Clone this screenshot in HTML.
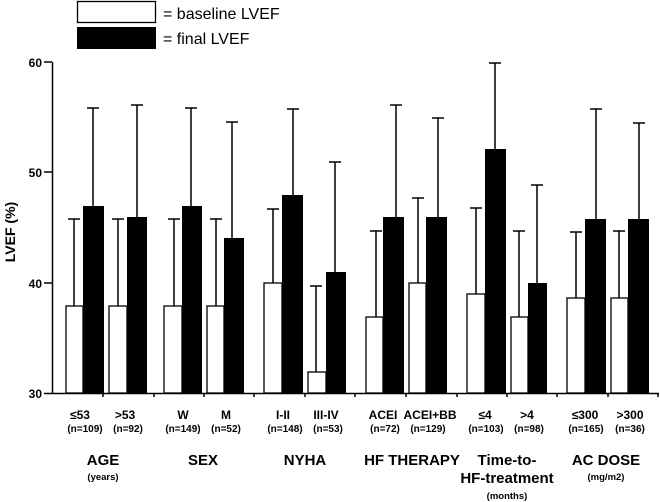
<!DOCTYPE html>
<html><head><meta charset="utf-8"><style>body{margin:0;background:#fff}svg{display:block}text{font-family:"Liberation Sans",Arial,sans-serif;fill:#000}</style></head>
<body>
<svg width="660" height="502" viewBox="0 0 660 502" xmlns="http://www.w3.org/2000/svg">
<rect x="77.5" y="1.5" width="78" height="21" fill="#fff" stroke="#000" stroke-width="1.3"/>
<rect x="77" y="27" width="79" height="22" fill="#000"/>
<text x="163" y="19" font-size="16">= baseline LVEF</text>
<text x="163" y="44" font-size="16">= final LVEF</text>
<g stroke="#000" stroke-width="1.5" fill="none">
<line x1="52.5" y1="62" x2="52.5" y2="394"/>
<line x1="52" y1="393.5" x2="659" y2="393.5"/>
<line x1="44" y1="62" x2="52" y2="62"/>
<line x1="44" y1="172" x2="52" y2="172"/>
<line x1="44" y1="283" x2="52" y2="283"/>
<line x1="44" y1="393.5" x2="52" y2="393.5"/>
<path d="M103 393v4M154 393v4M204 393v4M254 393v4M305 393v4M355 393v4M406 393v4M457 393v4M507 393v4M557 393v4M608 393v4M658 393v4"/>
</g>
<g font-size="12" font-weight="bold" text-anchor="end">
<text x="42" y="67">60</text><text x="42" y="177">50</text><text x="42" y="288">40</text><text x="42" y="398">30</text>
</g>
<text transform="translate(15,232) rotate(-90)" font-size="14" font-weight="bold" text-anchor="middle">LVEF (%)</text>
<g stroke="#000" stroke-width="1.5">
<path fill="none" d="M74 306V219M68 219h12 M93 206V108M87 108h12
M118 306V219M112 219h12 M137 217V105M131 105h12
M174 306V219M168 219h12 M191 206V108M185 108h12
M216 306V219M210 219h12 M232 238V122M226 122h12
M273 283V209M267 209h12 M293 195V109M287 109h12
M316 372V286M310 286h12 M335 272V162M329 162h12
M376 317V231M370 231h12 M396 217V105M390 105h12
M418 283V198M412 198h12 M438 217V118M432 118h12
M476 294V208M470 208h12 M495 149V63M489 63h12
M519 317V231M513 231h12 M537 283V185M531 185h12
M576 298V232M570 232h12 M596 219V109M590 109h12
M619 298V231M613 231h12 M639 219V123M633 123h12"/>
</g>
<g stroke="#000" stroke-width="1.3" fill="#fff">
<rect x="66" y="306" width="17" height="87"/>
<rect x="109" y="306" width="18" height="87"/>
<rect x="164" y="306" width="18" height="87"/>
<rect x="207" y="306" width="17" height="87"/>
<rect x="264" y="283" width="18" height="110"/>
<rect x="308" y="372" width="18" height="21"/>
<rect x="366" y="317" width="17" height="76"/>
<rect x="409" y="283" width="17" height="110"/>
<rect x="467" y="294" width="18" height="99"/>
<rect x="511" y="317" width="17" height="76"/>
<rect x="567" y="298" width="18" height="95"/>
<rect x="611" y="298" width="17" height="95"/>
</g>
<g fill="#000">
<rect x="83" y="206" width="21" height="187"/>
<rect x="127" y="217" width="20" height="176"/>
<rect x="182" y="206" width="20" height="187"/>
<rect x="224" y="238" width="20" height="155"/>
<rect x="282" y="195" width="21" height="198"/>
<rect x="326" y="272" width="20" height="121"/>
<rect x="383" y="217" width="21" height="176"/>
<rect x="426" y="217" width="21" height="176"/>
<rect x="485" y="149" width="21" height="244"/>
<rect x="528" y="283" width="19" height="110"/>
<rect x="585" y="219" width="21" height="174"/>
<rect x="628" y="219" width="21" height="174"/>
</g>
<g font-size="12" font-weight="bold" text-anchor="middle">
<text x="80" y="419">≤53</text><text x="125" y="419">&gt;53</text>
<text x="183" y="419">W</text><text x="226" y="419">M</text>
<text x="283" y="419">I-II</text><text x="326" y="419">III-IV</text>
<text x="383" y="419">ACEI</text><text x="430" y="419">ACEI+BB</text>
<text x="485" y="419">≤4</text><text x="527" y="419">&gt;4</text>
<text x="585" y="419">≤300</text><text x="630" y="419">&gt;300</text>
</g>
<g font-size="10" font-weight="bold" text-anchor="middle">
<text x="85" y="432">(n=109)</text><text x="128" y="432">(n=92)</text>
<text x="183" y="432">(n=149)</text><text x="226" y="432">(n=52)</text>
<text x="285" y="432">(n=148)</text><text x="328" y="432">(n=53)</text>
<text x="385" y="432">(n=72)</text><text x="428" y="432">(n=129)</text>
<text x="486" y="432">(n=103)</text><text x="529" y="432">(n=98)</text>
<text x="586" y="432">(n=165)</text><text x="630" y="432">(n=36)</text>
</g>
<g font-size="15" font-weight="bold" text-anchor="middle">
<text x="103" y="465">AGE</text><text x="203" y="465">SEX</text><text x="305" y="465">NYHA</text>
<text x="412" y="465">HF THERAPY</text><text x="507" y="465">Time-to-</text>
<text x="507" y="483">HF-treatment</text><text x="606" y="465">AC DOSE</text>
</g>
<g font-size="9.5" font-weight="bold" text-anchor="middle">
<text x="103" y="480">(years)</text><text x="606" y="480">(mg/m2)</text><text x="507" y="499">(months)</text>
</g>
</svg>
</body></html>
